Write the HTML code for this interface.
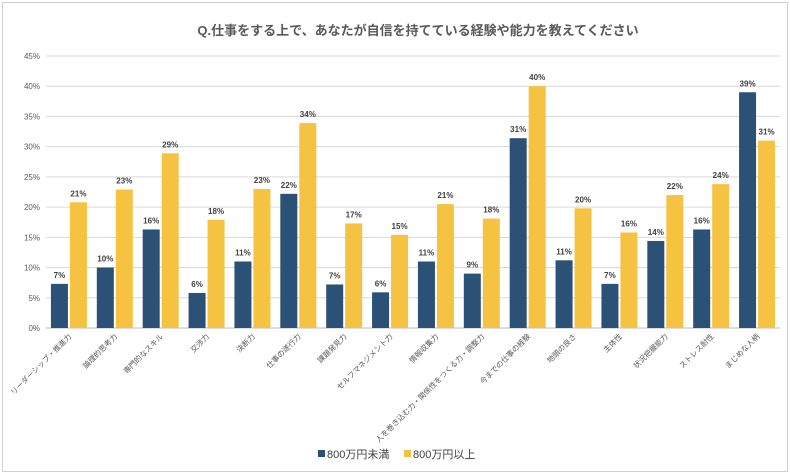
<!DOCTYPE html>
<html><head><meta charset="utf-8"><style>
body{margin:0;background:#fff;}
svg{display:block;font-family:"Liberation Sans","Noto Sans CJK JP",sans-serif;}
</style></head><body>
<svg id="c" width="790" height="475">
<rect x="2.5" y="2.5" width="785" height="469" fill="#fff" stroke="#d0d0d0"/>
<text x="418" y="35" text-anchor="middle" font-size="13" font-weight="bold" fill="#595959">Q.仕事をする上で、あなたが自信を持てている経験や能力を教えてください</text>
<g id="grid"></g><g id="bars"></g><g id="xl"></g>
<g>
<rect x="318" y="450" width="7" height="7" fill="#2b5176"/>
<text x="327" y="458" font-size="11" fill="#404040">800万円未満</text>
<rect x="404" y="450" width="7" height="7" fill="#f5c242"/>
<text x="413" y="458" font-size="11" fill="#404040">800万円以上</text>
</g>
</svg>
<script>
const categories=["リーダーシップ・推進力","論理的思考力","専門的なスキル","交渉力","決断力","仕事の遂行力","課題発見力","セルフマネジメント力","情報収集力","人を巻き込む力・関係性をつくる力・調整力","今までの仕事の経験","地頭の良さ","主体性","状況把握能力","ストレス耐性","まじめな人柄"];
const under800=[7.3,10,16.3,5.8,11,22.2,7.2,5.9,11,9,31.4,11.2,7.3,14.4,16.3,39];
const over800=[20.8,22.9,28.9,17.9,23,33.9,17.3,15.4,20.5,18.1,40,19.8,15.8,22,23.8,31];
const ticks=[0,5,10,15,20,25,30,35,40,45];
const NS="http://www.w3.org/2000/svg";
const x0=46,x1=780,y0=328,yTop=56,ymax=45;
const y=v=>y0-(v/ymax)*(y0-yTop);
const band=(x1-x0)/categories.length;
const cx=i=>x0+band*(i+0.5);
function mk(t,a,p){const e=document.createElementNS(NS,t);for(const k in a)e.setAttribute(k,a[k]);p.appendChild(e);return e;}
const g=document.getElementById('grid'),b=document.getElementById('bars'),xl=document.getElementById('xl');
ticks.forEach(t=>{
 const l=mk('line',{x1:x0,x2:x1,y1:y(t),y2:y(t),stroke:t===0?'#bfbfbf':'#d9d9d9','stroke-width':1},g);
 
 
 const tx=mk('text',{x:x0-6,y:y(t)+3,'text-anchor':'end','font-size':8,fill:'#595959'},g);
 tx.textContent=t+'%';
 
 
});
categories.forEach((c,i)=>{
 [[under800,'#2b5176',-18,'under800'],[over800,'#f5c242',1,'over800']].forEach(([arr,col,off,nm])=>{
  const v=arr[i];
  const r=mk('rect',{x:cx(i)+off,y:y(v),width:17,height:y0-y(v),fill:col},b);
  
  
  const t=mk('text',{x:cx(i)+off+8.5,y:y(v)-6,'text-anchor':'middle','font-size':8,'font-weight':'bold',fill:'#404040'},b);
  t.textContent=Math.round(v)+'%';
  
  
 });
 const lx=cx(i)+3,ly=337;
 const t=mk('text',{x:lx,y:ly,'text-anchor':'end','font-size':7.5,fill:'#595959',transform:`rotate(-45 ${lx} ${ly})`},xl);
 t.textContent=c;
 
 
});
</script>
</body></html>
